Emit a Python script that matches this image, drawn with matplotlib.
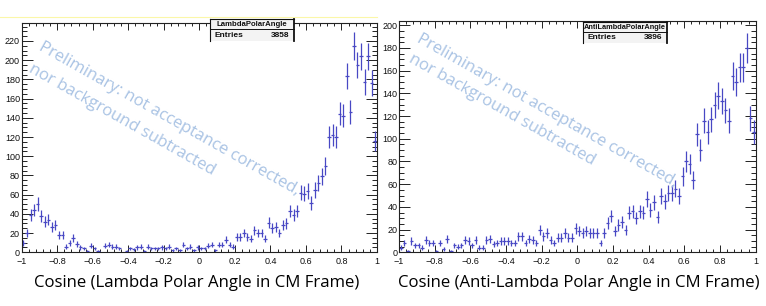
import numpy as np
import matplotlib
matplotlib.use("Agg")
import matplotlib.pyplot as plt
from matplotlib.lines import Line2D
from matplotlib.patches import Rectangle
from matplotlib.ticker import MultipleLocator, FuncFormatter

# ---------------- data ----------------
bin_edges_lo = -1.0
bin_edges_hi = 1.0
n_bins = 100

lambda_counts = [
    10, 20, 39, 44, 50, 38, 32, 34, 26, 28,
    18, 18, 6, 10, 15, 9, 5, 4, 1, 7,
    4, 1, 0, 7, 8, 6, 6, 4, 0, 1,
    4, 3, 5, 6, 1, 6, 4, 4, 4, 5,
    4, 6, 2, 4, 2, 8, 4, 6, 2, 5,
    4, 4, 7, 8, 2, 8, 8, 13, 8, 6,
    16, 16, 20, 16, 14, 23, 20, 20, 14, 31,
    25, 26, 20, 28, 30, 43, 39, 43, 62, 61,
    64, 51, 65, 72, 79, 90, 120, 122, 120, 144,
    142, 184, 146, 215, 195, 204, 177, 204, 176, 116,
]

antilambda_counts = [
    4, 8, 1, 10, 6, 6, 4, 11, 8, 8,
    1, 8, 3, 12, 1, 6, 5, 6, 11, 10,
    6, 11, 4, 4, 11, 12, 7, 8, 10, 10,
    10, 8, 8, 14, 14, 8, 12, 11, 8, 20,
    14, 17, 11, 8, 13, 13, 17, 13, 13, 21,
    19, 17, 19, 17, 17, 17, 8, 17, 26, 32,
    19, 24, 27, 20, 35, 36, 30, 36, 35, 47,
    37, 44, 31, 50, 45, 52, 52, 56, 50, 67,
    80, 78, 64, 104, 90, 116, 106, 117, 130, 138,
    133, 125, 116, 155, 150, 163, 163, 180, 118, 106,
]

hist_names = ["LambdaPolarAngle", "AntiLambdaPolarAngle"]
hist_entries = [3858, 3896]
x_titles = ["Cosine (Lambda Polar Angle in CM Frame)",
            "Cosine (Anti-Lambda Polar Angle in CM Frame)"]
y_max = [239, 204]
watermark_lines = ["Preliminary: not acceptance corrected,",
                   "nor background subtracted"]

# ---------------- style ----------------
W, H = 766, 306
fig = plt.figure(figsize=(W / 100, H / 100), dpi=100)
fig.patch.set_facecolor("white")

def fx(px):
    return px / W

def fy(py):
    return 1 - py / H

TICK_FONT = "Liberation Sans"
LINE_COLOR = "#4848c4"
WM_COLOR = "#a9c3e4"

panels = [
    dict(x0=21.7, x1=377.0, y0=22.7, y1=252.3,
         box=(210, 294.3, 19.0, 29.3, 40.7), box_fs=5.6,
         wm=(39.6, 46.5, 30.3, 68.0), label_x=197),
    dict(x0=399.0, x1=755.7, y0=20.7, y1=252.3,
         box=(582.7, 667.3, 21.7, 32.3, 42.7), box_fs=5.3,
         wm=(418.3, 38.0, 409.5, 58.5), label_x=578.5),
]

data_sets = [lambda_counts, antilambda_counts]

edges = np.linspace(bin_edges_lo, bin_edges_hi, n_bins + 1)
centers = 0.5 * (edges[:-1] + edges[1:])
half_w = 0.5 * (edges[1] - edges[0])

def fmt(v, pos):
    s = "%g" % round(v, 3)
    if s == "-0":
        s = "0"
    return s.replace("-", "\u2212")

# faint yellow line at the top of the left panel (slide artefact)
fig.add_artist(Line2D([fx(0), fx(377)], [fy(16.7), fy(16.7)],
                      color="#fbf7a8", lw=0.8, transform=fig.transFigure))

for i, p in enumerate(panels):
    ax = fig.add_axes([fx(p["x0"]), fy(p["y1"]),
                       fx(p["x1"]) - fx(p["x0"]), (p["y1"] - p["y0"]) / H])
    counts = np.array(data_sets[i], dtype=float)
    mask = counts > 0
    ax.errorbar(centers[mask], counts[mask], xerr=half_w,
                yerr=np.sqrt(counts[mask]), fmt="none",
                ecolor=LINE_COLOR, elinewidth=0.9, capsize=0)
    ax.set_xlim(bin_edges_lo, bin_edges_hi)
    ax.set_ylim(0, y_max[i])

    ax.xaxis.set_major_locator(MultipleLocator(0.2))
    ax.xaxis.set_minor_locator(MultipleLocator(0.04))
    ax.yaxis.set_major_locator(MultipleLocator(20))
    ax.yaxis.set_minor_locator(MultipleLocator(5))
    ax.xaxis.set_major_formatter(FuncFormatter(fmt))
    ax.yaxis.set_major_formatter(FuncFormatter(fmt))

    ax.tick_params(axis="both", which="both", direction="in",
                   top=True, right=True, color="#222222", width=0.7)
    ax.tick_params(axis="y", which="major", length=7.7, pad=1.2)
    ax.tick_params(axis="y", which="minor", length=3.8)
    ax.tick_params(axis="x", which="major", length=5.0, pad=3.2)
    ax.tick_params(axis="x", which="minor", length=2.5)
    for lab in ax.get_xticklabels() + ax.get_yticklabels():
        lab.set_fontfamily(TICK_FONT)
        lab.set_fontsize(6.5)
        lab.set_color("#111111")
    for sp in ax.spines.values():
        sp.set_color("#222222")
        sp.set_linewidth(0.8)

    # x-axis title (slide text)
    fig.text(fx(p["label_x"]), fy(283), x_titles[i], ha="center",
             va="center", fontsize=12.1, family="Open Sans", color="black")

    # watermark
    wx1, wy1, wx2, wy2 = p["wm"]
    fig.text(fx(wx1), fy(wy1), watermark_lines[0], rotation=-29.4,
             rotation_mode="anchor", ha="left", va="center",
             fontsize=12.0, family="Open Sans", color=WM_COLOR, zorder=5)
    fig.text(fx(wx2), fy(wy2), watermark_lines[1], rotation=-29.4,
             rotation_mode="anchor", ha="left", va="center",
             fontsize=12.0, family="Open Sans", color=WM_COLOR, zorder=5)

    # stats box
    bx0, bx1, by0, bdiv, by1 = p["box"]
    fig.add_artist(Rectangle((fx(bx0), fy(by1)), fx(bx1) - fx(bx0),
                             (by1 - by0) / H, transform=fig.transFigure,
                             facecolor="#f3f3f3", edgecolor="none", zorder=6))
    for (xa, ya, xb, yb, lw) in [
        (bx0, by0, bx1, by0, 0.8),
        (bx0, by0, bx0, by1, 0.8),
        (bx1, by0, bx1, by1, 1.3),
        (bx0, bdiv, bx1, bdiv, 0.7),
    ]:
        fig.add_artist(Line2D([fx(xa), fx(xb)], [fy(ya), fy(yb)],
                              color="#111111", lw=lw,
                              transform=fig.transFigure, zorder=7))
    fig.text(fx((bx0 + bx1) / 2), fy((by0 + bdiv) / 2 + 0.3), hist_names[i],
             ha="center", va="center", fontsize=p["box_fs"], family=TICK_FONT,
             weight="bold", color="#111111", zorder=8)
    fig.text(fx(bx0 + 4.5), fy((bdiv + by1) / 2 + 0.3), "Entries",
             ha="left", va="center", fontsize=6.0, family=TICK_FONT,
             weight="bold", color="#111111", zorder=8)
    fig.text(fx(bx1 - 4.5), fy((bdiv + by1) / 2 + 0.3), str(hist_entries[i]),
             ha="right", va="center", fontsize=6.0, family=TICK_FONT,
             weight="bold", color="#111111", zorder=8)

fig.savefig("out.png", dpi=100, facecolor="white")
